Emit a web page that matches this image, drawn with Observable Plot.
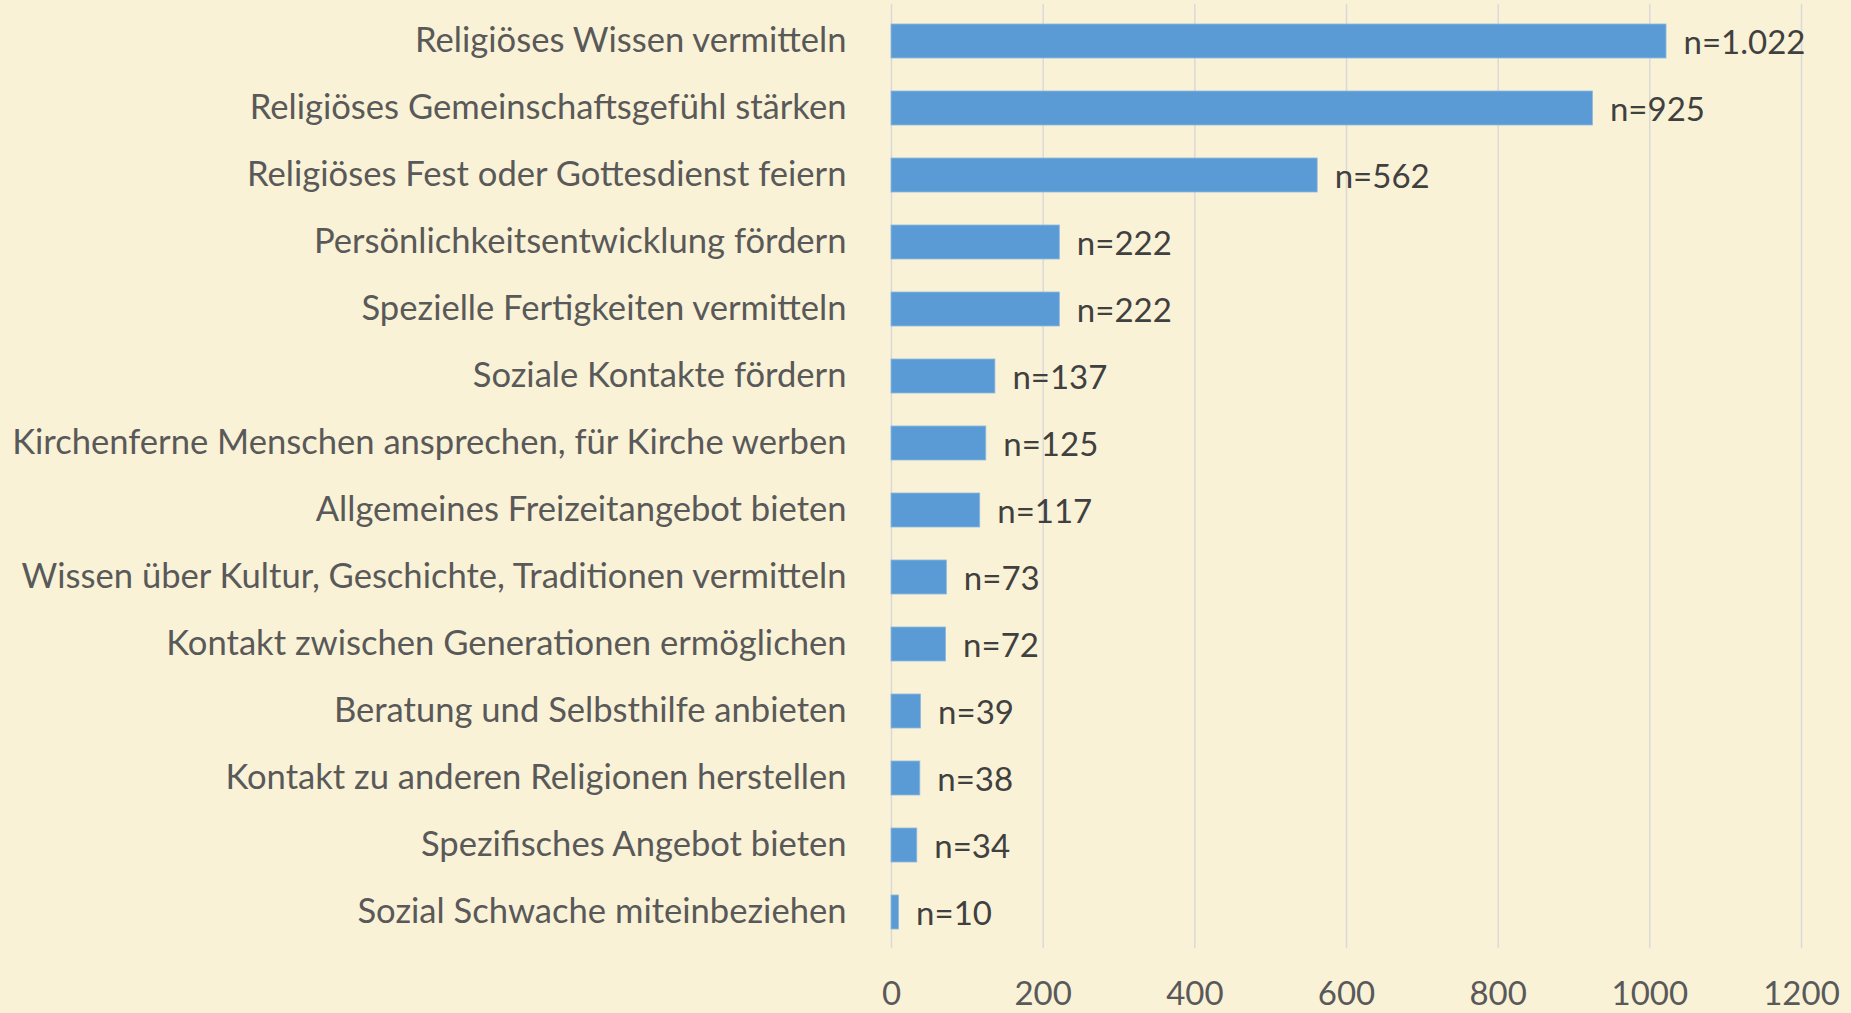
<!DOCTYPE html>
<html><head><meta charset="utf-8">
<script src="https://cdn.jsdelivr.net/npm/d3@7"></script>
<script src="https://cdn.jsdelivr.net/npm/@observablehq/plot@0.6"></script>
<style>
html,body{margin:0;padding:0;background:#FAF2D6;}
</style></head><body><div id="chart"></div>
<script>
const categories = [
  "Religiöses Wissen vermitteln",
  "Religiöses Gemeinschaftsgefühl stärken",
  "Religiöses Fest oder Gottesdienst feiern",
  "Persönlichkeitsentwicklung fördern",
  "Spezielle Fertigkeiten vermitteln",
  "Soziale Kontakte fördern",
  "Kirchenferne Menschen ansprechen, für Kirche werben",
  "Allgemeines Freizeitangebot bieten",
  "Wissen über Kultur, Geschichte, Traditionen vermitteln",
  "Kontakt zwischen Generationen ermöglichen",
  "Beratung und Selbsthilfe anbieten",
  "Kontakt zu anderen Religionen herstellen",
  "Spezifisches Angebot bieten",
  "Sozial Schwache miteinbeziehen"
];
const values = [1022, 925, 562, 222, 222, 137, 125, 117, 73, 72, 39, 38, 34, 10];
const valueLabels = ["n=1.022","n=925","n=562","n=222","n=222","n=137","n=125","n=117","n=73","n=72","n=39","n=38","n=34","n=10"];
const xTicks = [0, 200, 400, 600, 800, 1000, 1200];

const data = categories.map((c, i) => ({category: c, value: values[i], label: valueLabels[i]}));

const chart = Plot.plot({
  width: 1851, height: 1013,
  marginLeft: 891, marginRight: 50, marginTop: 4, marginBottom: 65,
  style: {background: "#FAF2D6", fontFamily: "Lato, 'Open Sans', sans-serif", fontSize: "33px", color: "#595959", overflow: "visible"},
  x: {domain: [0, 1200], label: null},
  y: {domain: categories, label: null, paddingInner: 0.5, paddingOuter: 0.24},
  marks: [
    Plot.gridX(xTicks, {stroke: "#D9D9D9", strokeOpacity: 1, strokeWidth: 1.5}),
    Plot.barX(data, {x: "value", y: "category", fill: "#5B9BD5", stroke: "#8DB8E2", strokeWidth: 0.8}),
    Plot.text(data, {x: "value", y: "category", text: "label", textAnchor: "start", dx: 17, dy: 2, fill: "#404040", fontSize: 33}),
    Plot.axisX(xTicks, {tickSize: 0, tickPadding: 33, tickFormat: d => String(d), fill: "#595959", fontSize: 33, label: null}),
    Plot.axisY({tickSize: 0, tickPadding: 45, dy: -1, fill: "#595959", fontSize: 34.6, label: null})
  ]
});
document.getElementById("chart").appendChild(chart);
</script>
</body></html>
